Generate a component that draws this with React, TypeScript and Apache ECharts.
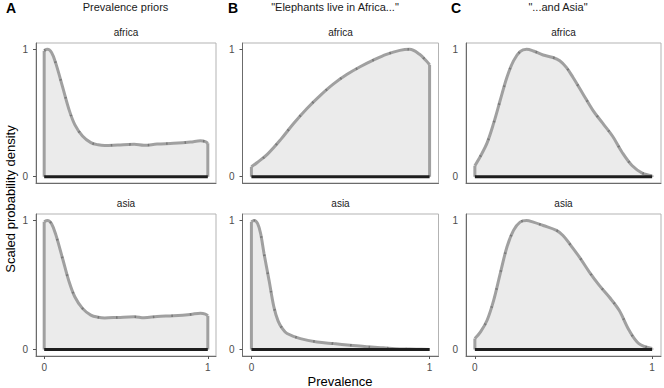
import React, { useEffect, useRef } from "react";
import * as echarts from "echarts";

// Scaled density curves: [prevalence, scaled density]
const priorsAfrica: [number, number][] = [
  [0, 0.99], [0.02, 1.0], [0.045, 0.975], [0.071, 0.89], [0.112, 0.707], [0.152, 0.526],
  [0.187, 0.409], [0.234, 0.319], [0.285, 0.267], [0.33, 0.25], [0.37, 0.245], [0.45, 0.249],
  [0.55, 0.254], [0.61, 0.246], [0.69, 0.256], [0.79, 0.262], [0.894, 0.272], [0.955, 0.282],
  [0.985, 0.275], [1.0, 0.262],
];
const priorsAsia: [number, number][] = [
  [0, 0.99], [0.02, 1.0], [0.045, 0.975], [0.071, 0.89], [0.112, 0.707], [0.152, 0.526],
  [0.187, 0.409], [0.234, 0.319], [0.285, 0.267], [0.33, 0.25], [0.37, 0.245], [0.45, 0.249],
  [0.55, 0.254], [0.61, 0.246], [0.69, 0.256], [0.79, 0.262], [0.894, 0.272], [0.955, 0.282],
  [0.985, 0.275], [1.0, 0.262],
];
const elephantsAfrica: [number, number][] = [
  [0, 0.077], [0.033, 0.111], [0.089, 0.175], [0.164, 0.291], [0.238, 0.42], [0.312, 0.536],
  [0.387, 0.639], [0.461, 0.729], [0.535, 0.802], [0.61, 0.863], [0.684, 0.915], [0.758, 0.961],
  [0.833, 0.992], [0.888, 1.0], [0.944, 0.961], [0.981, 0.91], [1.0, 0.879],
];
const elephantsAsia: [number, number][] = [
  [0, 0.99], [0.015, 1.0], [0.035, 0.975], [0.052, 0.897], [0.071, 0.742], [0.099, 0.536],
  [0.126, 0.33], [0.15, 0.22], [0.175, 0.16], [0.2, 0.124], [0.275, 0.085], [0.368, 0.059],
  [0.461, 0.046], [0.554, 0.034], [0.647, 0.021], [0.74, 0.013], [0.833, 0.005], [0.926, 0.003],
  [1.0, 0.0],
];
const andAsiaAfrica: [number, number][] = [
  [0, 0.085], [0.032, 0.162], [0.069, 0.265], [0.106, 0.42], [0.143, 0.6], [0.181, 0.781],
  [0.218, 0.91], [0.255, 0.982], [0.292, 1.0], [0.33, 0.987], [0.385, 0.956], [0.441, 0.936],
  [0.479, 0.91], [0.516, 0.858], [0.553, 0.781], [0.609, 0.652], [0.665, 0.523], [0.721, 0.42],
  [0.777, 0.317], [0.832, 0.188], [0.888, 0.085], [0.944, 0.028], [1.0, 0.008],
];
const andAsiaAsia: [number, number][] = [
  [0, 0.085], [0.032, 0.137], [0.069, 0.227], [0.106, 0.381], [0.143, 0.588], [0.181, 0.794],
  [0.218, 0.923], [0.255, 0.987], [0.292, 1.0], [0.33, 0.987], [0.385, 0.961], [0.46, 0.923],
  [0.497, 0.884], [0.534, 0.82], [0.59, 0.716], [0.646, 0.6], [0.702, 0.497], [0.758, 0.407],
  [0.814, 0.304], [0.87, 0.149], [0.925, 0.046], [1.0, 0.008],
];

const columnTitles = ["Prevalence priors", "\"Elephants live in Africa...\"", "\"...and Asia\""];
const columnTags = ["A", "B", "C"];
const rowLabels = ["africa", "asia"];
const tickValues = [0, 1];
const xTitle = "Prevalence";
const yTitle = "Scaled probability density";

const panelData: [number, number][][][] = [
  [priorsAfrica, elephantsAfrica, andAsiaAfrica],
  [priorsAsia, elephantsAsia, andAsiaAsia],
];

const FONT = "Liberation Sans, Arial, Helvetica, sans-serif";

export default function App() {
  const ref = useRef<HTMLDivElement>(null);
  useEffect(() => {
    if (!ref.current) return;
    const chart = echarts.init(ref.current, undefined, { renderer: "svg" });
    const colLeft = [36, 242.5, 466];
    const colWidth = [180, 196, 195];
    const rowTop = [43, 214];
    const rowHeight = [140, 142];
    const grids: any[] = [];
    const xAxes: any[] = [];
    const yAxes: any[] = [];
    const series: any[] = [];
    for (let r = 0; r < 2; r++) {
      for (let c = 0; c < 3; c++) {
        const i = r * 3 + c;
        const pts = panelData[r][c];
        grids.push({
          left: colLeft[c], top: rowTop[r], width: colWidth[c], height: rowHeight[r],
          show: true, borderColor: "#b3b3b3", borderWidth: 1, backgroundColor: "transparent",
        });
        xAxes.push({
          type: "value", gridIndex: i, min: -0.05, max: 1.05,
          axisLine: { show: true, onZero: false, lineStyle: { color: "#6b6b6b", width: 1 } },
          axisTick: { show: r === 1, customValues: tickValues, length: 3, lineStyle: { color: "#555" } },
          axisLabel: {
            show: r === 1, customValues: tickValues, margin: 6, fontSize: 10,
            color: "#4d4d4d", fontFamily: FONT,
          },
          splitLine: { show: false },
        });
        yAxes.push({
          type: "value", gridIndex: i, min: -0.05, max: 1.05,
          axisLine: { show: true, onZero: false, lineStyle: { color: "#6b6b6b", width: 1 } },
          axisTick: { show: c < 2, customValues: tickValues, length: 3, lineStyle: { color: "#555" } },
          axisLabel: {
            show: true, customValues: tickValues, margin: 8, fontSize: 10,
            color: "#4d4d4d", fontFamily: FONT,
          },
          splitLine: { show: false },
        });
        series.push({
          type: "line", xAxisIndex: i, yAxisIndex: i, data: pts, smooth: 0.35,
          showSymbol: false, symbol: "none", silent: true,
          lineStyle: { color: "#a0a0a0", width: 3 },
          areaStyle: { color: "#ebebeb", opacity: 1 }, z: 2,
        });
        series.push({
          type: "line", xAxisIndex: i, yAxisIndex: i, data: pts, smooth: 0.35,
          showSymbol: false, symbol: "none", silent: true,
          lineStyle: { color: "rgba(30,30,30,0.3)", width: 2.5, type: [1.5, 17], dashOffset: 4 * i },
          z: 3,
        });
        const first = pts[0];
        const last = pts[pts.length - 1];
        series.push({
          type: "line", xAxisIndex: i, yAxisIndex: i,
          data: [[first[0], 0], [first[0], first[1]]],
          showSymbol: false, symbol: "none", silent: true,
          lineStyle: { color: "#a0a0a0", width: 3 }, z: 2,
        });
        series.push({
          type: "line", xAxisIndex: i, yAxisIndex: i,
          data: [[last[0], last[1]], [last[0], 0]],
          showSymbol: false, symbol: "none", silent: true,
          lineStyle: { color: "#a0a0a0", width: 3 }, z: 2,
        });
        series.push({
          type: "line", xAxisIndex: i, yAxisIndex: i,
          data: [[first[0], 0], [last[0], 0]],
          showSymbol: false, symbol: "none", silent: true,
          lineStyle: { color: "#1e1e1e", width: 3 }, z: 4,
        });
      }
    }
    const tagX = [11, 233, 456];
    const titleX = [125.5, 335, 558];
    const stripX = colLeft.map((l, k) => l + colWidth[k] / 2);
    const stripY = [32, 203];
    const graphics: any[] = [];
    for (let c = 0; c < 3; c++) {
      graphics.push({
        type: "text", x: tagX[c], y: 8,
        style: {
          text: columnTags[c], fontSize: 14, fontWeight: "bold", fontFamily: FONT,
          fill: "#000", textAlign: "center", textVerticalAlign: "middle",
        },
      });
      graphics.push({
        type: "text", x: titleX[c], y: 7,
        style: {
          text: columnTitles[c], fontSize: 11, fontFamily: FONT,
          fill: "#1a1a1a", textAlign: "center", textVerticalAlign: "middle",
        },
      });
      for (let r = 0; r < 2; r++) {
        graphics.push({
          type: "text", x: stripX[c], y: stripY[r],
          style: {
            text: rowLabels[r], fontSize: 10, fontFamily: FONT,
            fill: "#1a1a1a", textAlign: "center", textVerticalAlign: "middle",
          },
        });
      }
    }
    graphics.push({
      type: "text", x: 340, y: 381,
      style: {
        text: xTitle, fontSize: 13, fontFamily: FONT, fill: "#000",
        textAlign: "center", textVerticalAlign: "middle",
      },
    });
    graphics.push({
      type: "text", x: 10, y: 199, rotation: Math.PI / 2,
      style: {
        text: yTitle, fontSize: 13, fontFamily: FONT, fill: "#000",
        textAlign: "center", textVerticalAlign: "middle",
      },
    });
    chart.setOption({
      animation: false,
      backgroundColor: "#ffffff",
      grid: grids,
      xAxis: xAxes,
      yAxis: yAxes,
      series,
      graphic: graphics,
    });
    return () => chart.dispose();
  }, []);
  return (
    <div
      ref={ref}
      style={{ position: "fixed", left: 0, top: 0, width: 664, height: 388 }}
    />
  );
}
